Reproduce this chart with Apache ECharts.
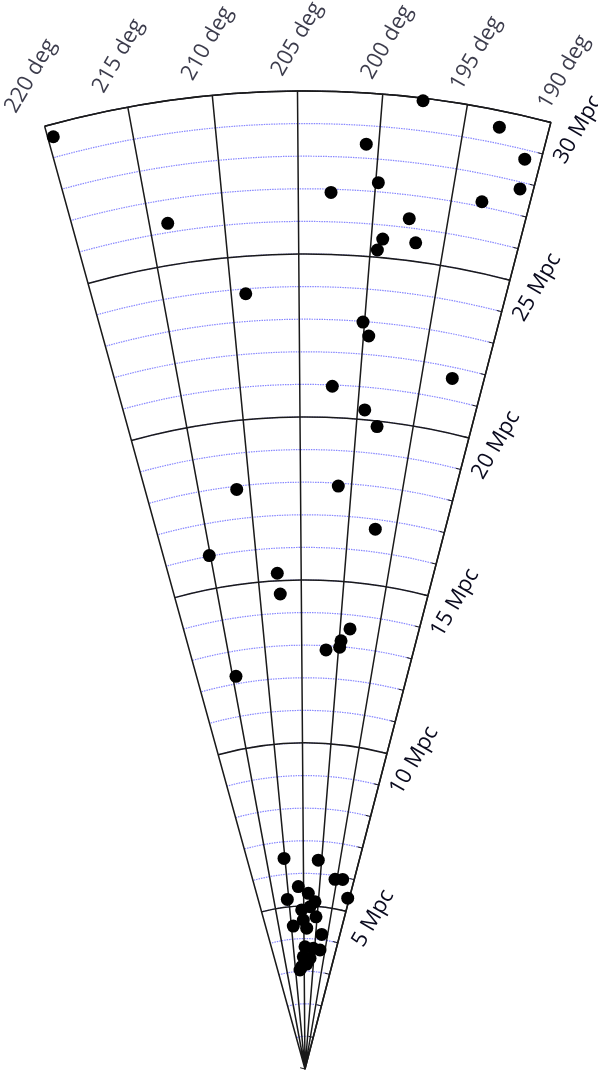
<!DOCTYPE html>
<html>
<head>
<meta charset="utf-8">
<script src="https://cdn.jsdelivr.net/npm/echarts@6/dist/echarts.min.js"></script>
<style>
html,body{margin:0;padding:0;background:#fff;}
#chart{width:598px;height:1077px;}
</style>
</head>
<body>
<div id="chart"></div>
<script>
// Angle ticks (deg) and their labels
const angleTicks = [190, 195, 200, 205, 210, 215, 220];
const angleTickLabels = ['190 deg', '195 deg', '200 deg', '205 deg', '210 deg', '215 deg', '220 deg'];
// Distance ticks (Mpc)
const distanceTickLabels = ['5 Mpc', '10 Mpc', '15 Mpc', '20 Mpc', '25 Mpc', '30 Mpc'];

// Galaxies: distance (Mpc) and angle (deg)
const galaxyDistance = [
  29.62, 29.92, 29.50, 28.71, 27.79, 27.15, 28.43, 27.28, 26.90, 26.28,
  25.57, 25.57, 25.22, 26.28, 23.85, 22.98, 22.57, 21.66, 20.96, 20.30,
  19.83, 17.90, 17.91, 16.70, 16.02, 15.23, 14.59, 13.57, 13.18, 12.98,
  12.87, 12.23, 6.49, 6.42, 5.89, 5.93, 5.40, 5.60, 5.23, 5.39,
  5.14, 4.88, 4.98, 4.68, 4.57, 4.40, 4.32, 4.16, 3.75, 3.71,
  3.68, 3.44, 3.40, 3.14, 3.22, 3.04
];
const galaxyAngle = [
  219.67, 197.61, 192.90, 190.98, 190.83, 193.03, 200.77, 199.83, 202.86, 197.57,
  199.21, 196.93, 199.51, 213.78, 208.93, 200.12, 199.59, 192.52, 202.27, 199.38,
  198.16, 211.28, 201.29, 197.14, 215.12, 207.76, 207.54, 198.72, 199.75, 199.86,
  201.69, 214.53, 210.25, 200.92, 195.57, 193.32, 190.52, 206.66, 210.51, 203.48,
  201.14, 205.75, 202.80, 200.43, 205.21, 209.24, 203.87, 197.49, 204.56, 200.63,
  197.38, 205.43, 201.97, 206.41, 203.63, 207.45
];

const chart = echarts.init(document.getElementById('chart'), null, {renderer: 'canvas'});
const majorColor = '#1a1a1a';
const majorWidth = 1.5;
const labelFont = {fontSize: 22, fontFamily: 'Open Sans', color: '#0a0a1e'};
const outerLabelRadius = 31.6;
const polarBase = {center: [305, 1069], radius: [0, 978]};
const angleBase = {
  type: 'value', min: 190, max: 220, interval: 5,
  startAngle: 75.44, endAngle: 105.44, clockwise: false,
  axisTick: {show: false}, axisLabel: {show: false}
};

chart.setOption({
  animation: false,
  backgroundColor: '#fff',
  polar: [Object.assign({}, polarBase), Object.assign({}, polarBase)],
  angleAxis: [
    Object.assign({polarIndex: 0, axisLine: {show: false}, splitLine: {show: false}}, angleBase),
    Object.assign({
      polarIndex: 1,
      axisLine: {show: true, lineStyle: {color: majorColor, width: majorWidth}},
      splitLine: {show: true, lineStyle: {color: majorColor, width: majorWidth}}
    }, angleBase)
  ],
  radiusAxis: [
    {
      polarIndex: 0, type: 'value', min: 0, max: 30, interval: 1,
      axisLine: {show: false},
      axisTick: {show: true, inside: false, length: 5, lineStyle: {color: majorColor, width: 1}},
      axisLabel: {show: false},
      splitLine: {show: true, lineStyle: {color: 'rgba(70,70,255,0.65)', type: [1.5, 1], width: 1.2}}
    },
    {
      polarIndex: 1, type: 'value', min: 0, max: 30, interval: 5,
      axisLine: {show: true, lineStyle: {color: majorColor, width: majorWidth}},
      axisTick: {show: false},
      splitLine: {show: true, lineStyle: {color: majorColor, width: majorWidth}},
      axisLabel: Object.assign({
        show: true, rotate: 60, margin: -28, align: 'center', verticalAlign: 'middle',
        formatter: function (v) { return v === 0 ? '' : distanceTickLabels[v / 5 - 1]; }
      }, labelFont)
    }
  ],
  series: [
    {
      type: 'scatter', coordinateSystem: 'polar', polarIndex: 1, symbolSize: 13, z: 5,
      itemStyle: {color: '#000', opacity: 1},
      data: galaxyDistance.map(function (r, i) { return [r, galaxyAngle[i]]; })
    },
    {
      type: 'scatter', coordinateSystem: 'polar', polarIndex: 1, symbolSize: 1, silent: true, clip: false,
      itemStyle: {color: 'rgba(0,0,0,0)'},
      data: angleTicks.map(function (a) { return [outerLabelRadius, a]; }),
      label: Object.assign({
        show: true, position: 'inside', rotate: 60, align: 'center', verticalAlign: 'middle',
        formatter: function (p) { return angleTickLabels[p.dataIndex]; }
      }, labelFont)
    }
  ]
});
</script>
</body>
</html>
